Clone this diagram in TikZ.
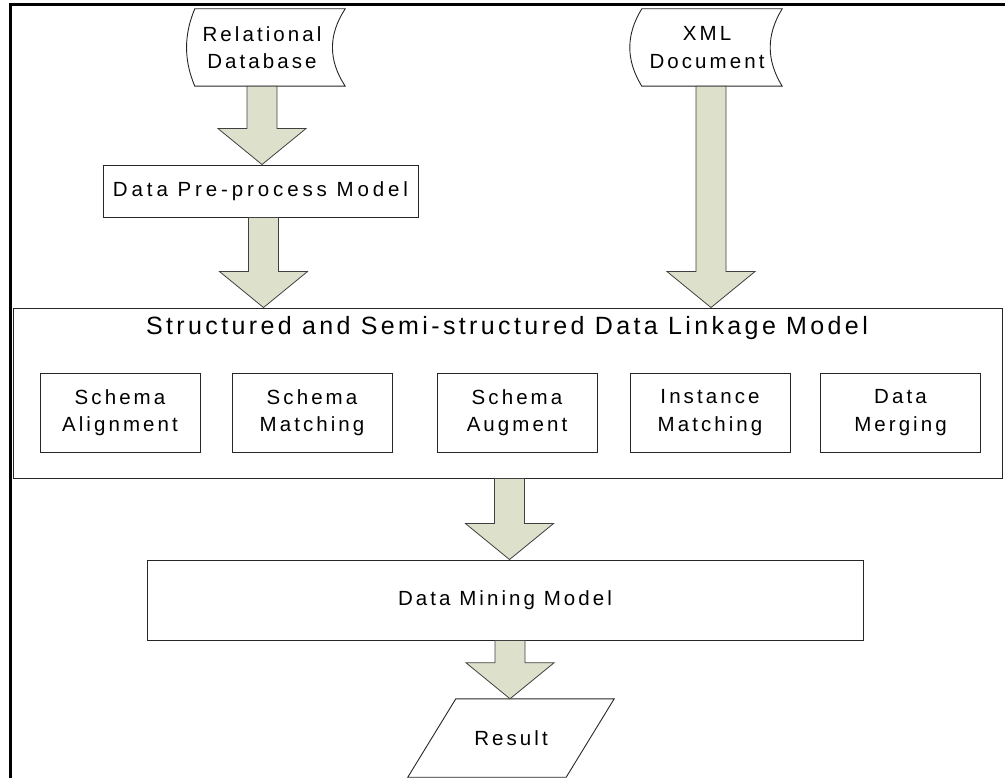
\documentclass[tikz,border=0pt]{standalone}
\usepackage{fontspec}
\setmainfont{Liberation Sans}[LetterSpace=15]
\usetikzlibrary{calc}
\definecolor{arrowfill}{RGB}{221,224,203}
\tikzset{
  txt/.style={inner sep=0pt, align=center, font=\fontsize{20.5pt}{27.5pt}\selectfont},
  box/.style={txt, draw=black!85, line width=0.9pt},
  shapeline/.style={draw=black!85, line width=0.9pt},
  barrow/.style={draw=black!75, line width=0.8pt, fill=arrowfill, line join=miter},
  titletxt/.style={inner sep=0pt, anchor=base, font=\fontsize{25pt}{30pt}\selectfont\addfontfeatures{LetterSpace=13.5}},
  widetxt/.style={font=\fontsize{20.5pt}{27.5pt}\selectfont\addfontfeatures{LetterSpace=19}},
}
\newcommand{\blockarrow}[2]{%
  \draw[barrow] let \p1=(#1), \p2=(#2) in
    (\x1-15pt,\y1) -- (\x1+15pt,\y1) -- (\x1+15pt,\y2+36pt) -- (\x1+44pt,\y2+36pt)
    -- (\x1,\y2) -- (\x1-44pt,\y2+36pt) -- (\x1-15pt,\y2+36pt) -- cycle;}
\begin{document}
\begin{tikzpicture}[x=1pt,y=-1pt]
\useasboundingbox (0,0) rectangle (1005,778);
% frame
\draw[line width=3pt] (10,778) -- (10,5) -- (1005,5);

% stored data sources
\node[txt, minimum width=150pt, minimum height=77pt] (rdb) at (262,47.5) {Relational\\Database};
\draw[shapeline] ($(rdb.north west)+(8,0)$) -- ($(rdb.north east)+(8,0)$)
  .. controls +(-17,26) and +(-17,-26) .. ($(rdb.south east)+(8,0)$)
  -- ($(rdb.south west)+(8,0)$)
  .. controls +(-11,-26) and +(-11,26) .. ($(rdb.north west)+(8,0)$) -- cycle;

\node[txt, minimum width=140pt, minimum height=77pt] (xml) at (707,47.5) {XML\\Document};
\draw[shapeline] ($(xml.north west)+(5,0)$) -- ($(xml.north east)+(5,0)$)
  .. controls +(-16,26) and +(-16,-26) .. ($(xml.south east)+(5,0)$)
  -- ($(xml.south west)+(5,0)$)
  .. controls +(-16,-26) and +(-16,26) .. ($(xml.north west)+(5,0)$) -- cycle;

% pre-process
\node[box, widetxt, minimum width=315pt, minimum height=52pt] (pre) at (260.5,191) {Data Pre-process Model};

% linkage model
\node[box, minimum width=989pt, minimum height=170pt] (link) at (507.5,393) {};
\node[titletxt] (linktitle) at (507,335) {Structured and Semi-structured Data Linkage Model};
\node[box, minimum width=160pt, minimum height=79pt] (sa) at (120,412.5) {Schema\\Alignment};
\node[box, minimum width=160pt, minimum height=79pt] (sm) at (312,412.5) {Schema\\Matching};
\node[box, minimum width=160pt, minimum height=79pt] (sg) at (517,412.5) {Schema\\Augment};
\node[box, minimum width=160pt, minimum height=79pt] (im) at (710,412.5) {Instance\\Matching};
\node[box, minimum width=160pt, minimum height=79pt] (dm) at (900.5,412.5) {Data\\Merging};

% data mining
\node[box, minimum width=716pt, minimum height=80pt] (mine) at (505,600) {Data Mining Model};

% result
\node[txt, minimum width=158pt, minimum height=78pt] (res) at (511,738) {Result};
\draw[shapeline] ($(res.north west)+(24,0)$) -- ($(res.north east)+(24,0)$)
  -- ($(res.south east)+(-24,0)$) -- ($(res.south west)+(-24,0)$) -- cycle;

% block arrows
\blockarrow{rdb.south}{pre.north}
\blockarrow{$(pre.south)+(3,0)$}{link.north}
\blockarrow{$(xml.south)+(4,0)$}{link.north}
\blockarrow{$(link.south)+(2,0)$}{mine.north}
\blockarrow{$(mine.south)+(5,0)$}{res.north}
\end{tikzpicture}
\end{document}
